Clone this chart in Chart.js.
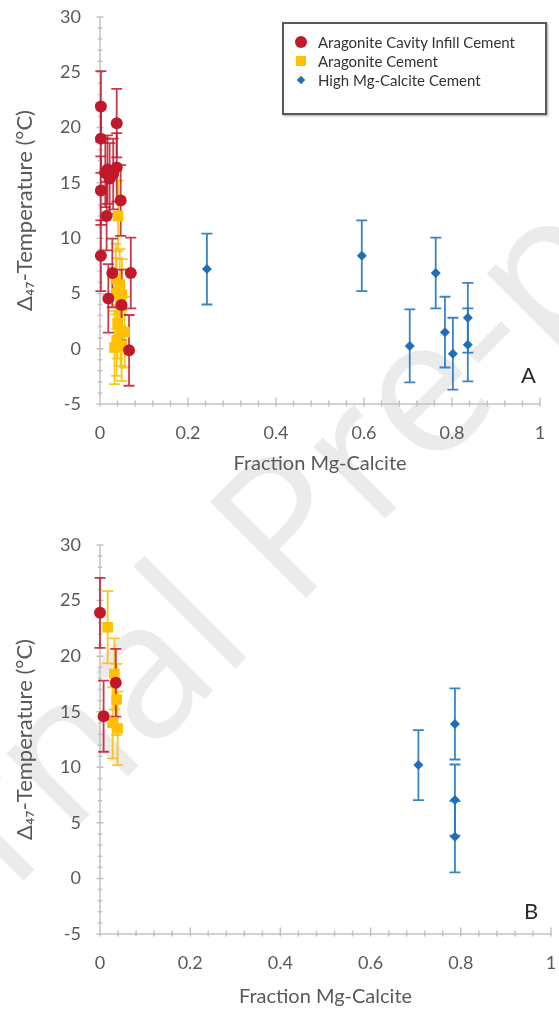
<!DOCTYPE html>
<html>
<head>
<meta charset="utf-8">
<script src="https://cdn.jsdelivr.net/npm/chart.js@4.4.0/dist/chart.umd.min.js"></script>
<style>
  html, body { margin: 0; padding: 0; background: #fff; }
  body { width: 559px; height: 1017px; position: relative; overflow: hidden; font-family: Lato, 'Open Sans', sans-serif; }
  .watermark {
    position: absolute; left: 300px; top: 500px; z-index: 0;
    transform: translate(-50%, -50%) rotate(-45deg);
    font: 190px 'Open Sans', sans-serif; color: #ebebeb; white-space: nowrap;
  }
  .panel { position: absolute; left: 0; z-index: 1; }
  #chartA { top: 0; }
  #chartB { top: 520px; }
  .tag { position: absolute; z-index: 2; font: 22px Lato, sans-serif; color: #2b2b2b; line-height: 1; }
  #legend {
    position: absolute; z-index: 2; left: 282px; top: 22px; width: 265px; height: 93px;
    border: 2px solid #5a5a5a; box-shadow: 1px 1px 2px rgba(0,0,0,0.35); background: #fff;
    padding-top: 8px; box-sizing: border-box;
  }
  .row { height: 19px; display: flex; align-items: center; font: 15px Lato, sans-serif; color: #333; }
  .mark { width: 34px; display: flex; justify-content: center; }
</style>
</head>
<body>
<div class="watermark">Journal Pre-proof</div>
<canvas id="chartA" class="panel" width="559" height="510"></canvas>
<canvas id="chartB" class="panel" width="559" height="497"></canvas>
<div id="legend"></div>
<div class="tag" style="left:521px; top:364px;">A</div>
<div class="tag" style="left:524px; top:900px;">B</div>

<script>
// ---- data ----
const SERIES_NAMES = ['Aragonite Cavity Infill Cement', 'Aragonite Cement', 'High Mg-Calcite Cement'];
const X_TITLE = 'Fraction Mg-Calcite';
const Y_TITLE = 'Δ₄₇-Temperature (°C)';
const X_TICKS = [0, 0.2, 0.4, 0.6, 0.8, 1];
const Y_TICKS = [-5, 0, 5, 10, 15, 20, 25, 30];

// Panel A
const infillA_x = [0.002, 0.038, 0.002, 0.017, 0.030, 0.038, 0.022, 0.012, 0.002, 0.047, 0.015, 0.002, 0.028, 0.070, 0.019, 0.049, 0.066];
const infillA_y = [21.9, 20.4, 19.0, 16.2, 15.8, 16.4, 15.4, 15.9, 14.3, 13.4, 12.0, 8.4, 6.85, 6.85, 4.55, 3.95, -0.15];
const infillA_err = [3.2, 3.1, 3.1, 3.1, 3.2, 3.1, 3.2, 3.1, 3.1, 3.2, 3.1, 3.2, 3.1, 3.2, 3.1, 3.2, 3.2];

const aragA_x = [0.041, 0.036, 0.045, 0.050, 0.038, 0.040, 0.047, 0.056, 0.038, 0.049, 0.033];
const aragA_y = [12.0, 6.3, 5.8, 4.9, 5.0, 2.3, 1.65, 1.5, 0.75, 0.3, 0.1];
const aragA_err = [3.2, 3.2, 3.2, 3.2, 3.2, 3.2, 3.2, 3.2, 3.2, 3.2, 3.3];

const hmcA_x = [0.243, 0.595, 0.763, 0.704, 0.784, 0.802, 0.836, 0.836];
const hmcA_y = [7.2, 8.4, 6.85, 0.25, 1.5, -0.45, 2.8, 0.35];
const hmcA_err = [3.2, 3.2, 3.2, 3.3, 3.2, 3.25, 3.15, 3.3];

// Panel B
const infillB_x = [0.0, 0.008, 0.035];
const infillB_y = [23.9, 14.6, 17.6];
const infillB_err = [3.15, 3.2, 3.05];

const aragB_x = [0.017, 0.032, 0.037, 0.028, 0.039];
const aragB_y = [22.6, 18.4, 16.1, 14.0, 13.5];
const aragB_err = [3.25, 3.2, 3.2, 3.2, 3.3];

const hmcB_x = [0.706, 0.787, 0.787, 0.787];
const hmcB_y = [10.2, 13.9, 7.05, 3.75];
const hmcB_err = [3.15, 3.2, 3.2, 3.2];

// ---- look ----
const FONT = "Lato, 'Open Sans', sans-serif";
const TEXT = '#595959';
const STYLES = [
    { color: '#c0192c', err: 'rgba(192, 25, 44, 0.85)', shape: 'circle', radius: 6 },
    { color: '#ffc000', err: 'rgba(255, 192, 0, 0.9)', shape: 'rect', radius: 7.5 },
    { color: '#1f6fb8', err: 'rgba(38, 118, 190, 0.9)', shape: 'rectRot', radius: 5 }
];

// axis lines with major + minor ticks crossing them
const axisLines = {
    id: 'axisLines',
    beforeDatasetsDraw(chart) {
        const { ctx, chartArea: a, scales: { x, y } } = chart;
        ctx.save();
        ctx.strokeStyle = '#c2c2c2';
        ctx.lineWidth = 1.5;
        ctx.beginPath();
        ctx.moveTo(a.left, a.top);
        ctx.lineTo(a.left, a.bottom);
        ctx.lineTo(a.right, a.bottom);
        for (let v = -5; v <= 30; v++) {
            const py = y.getPixelForValue(v);
            const len = v % 5 === 0 ? 3.5 : 2.2;
            ctx.moveTo(a.left - len, py);
            ctx.lineTo(a.left + len, py);
        }
        for (let k = 0; k <= 25; k++) {
            const px = x.getPixelForValue(k * 0.04);
            const up = k % 5 === 0 ? 6.5 : 3.5;
            ctx.moveTo(px, a.bottom + 2.5);
            ctx.lineTo(px, a.bottom - up);
        }
        ctx.stroke();
        ctx.restore();
    }
};

// vertical error bars with caps, red series last so it sits on top
const errorBars = {
    id: 'errorBars',
    beforeDatasetsDraw(chart) {
        const { ctx, scales: { x, y } } = chart;
        const cap = 5.5;
        for (let i = chart.data.datasets.length - 1; i >= 0; i--) {
            const ds = chart.data.datasets[i];
            ctx.save();
            ctx.strokeStyle = ds.errColor;
            ctx.lineWidth = 1.8;
            ds.data.forEach((p, j) => {
                const px = x.getPixelForValue(p.x);
                const top = y.getPixelForValue(p.y + ds.yErr[j]);
                const bot = y.getPixelForValue(p.y - ds.yErr[j]);
                ctx.beginPath();
                ctx.moveTo(px, top); ctx.lineTo(px, bot);
                ctx.moveTo(px - cap, top); ctx.lineTo(px + cap, top);
                ctx.moveTo(px - cap, bot); ctx.lineTo(px + cap, bot);
                ctx.stroke();
            });
            ctx.restore();
        }
    }
};

function toPoints(xs, ys) {
    return xs.map((v, i) => ({ x: v, y: ys[i] }));
}

// keep the plot box where the figure has it: no extra room for end labels
function noEdgePadding(s) {
    s.paddingLeft = s.paddingRight = s.paddingTop = s.paddingBottom = 0;
}

function buildPanel(canvasId, series, pad, xScaleHeight) {
    const datasets = series.map((s, i) => ({
        label: SERIES_NAMES[i],
        data: toPoints(s[0], s[1]),
        yErr: s[2],
        errColor: STYLES[i].err,
        pointStyle: STYLES[i].shape,
        pointRadius: STYLES[i].radius,
        backgroundColor: STYLES[i].color,
        borderColor: STYLES[i].color,
        borderWidth: 0,
        clip: false
    }));

    return new Chart(document.getElementById(canvasId), {
        type: 'scatter',
        data: { datasets },
        options: {
            responsive: false,
            animation: false,
            events: [],
            layout: { padding: pad },
            plugins: { legend: { display: false }, tooltip: { enabled: false } },
            scales: {
                x: {
                    type: 'linear',
                    min: X_TICKS[0],
                    max: X_TICKS[X_TICKS.length - 1],
                    afterBuildTicks: s => { s.ticks = X_TICKS.map(v => ({ value: v })); },
                    afterFit: s => { s.height = xScaleHeight; noEdgePadding(s); },
                    grid: { display: false, drawTicks: false },
                    border: { display: false },
                    ticks: {
                        padding: 18, color: TEXT, maxRotation: 0, autoSkip: false,
                        font: { family: FONT, size: 18 },
                        callback: v => String(+v.toFixed(1))
                    },
                    title: { display: true, text: X_TITLE, color: TEXT, padding: 0, font: { family: FONT, size: 20 } }
                },
                y: {
                    min: Y_TICKS[0],
                    max: Y_TICKS[Y_TICKS.length - 1],
                    afterBuildTicks: s => { s.ticks = Y_TICKS.map(v => ({ value: v })); },
                    afterFit: s => { s.width = 88; noEdgePadding(s); },
                    grid: { display: false, drawTicks: false },
                    border: { display: false },
                    ticks: { padding: 19, color: TEXT, font: { family: FONT, size: 18 } },
                    title: { display: true, text: Y_TITLE, color: TEXT, padding: 0, font: { family: FONT, size: 22 } }
                }
            }
        },
        plugins: [axisLines, errorBars]
    });
}

function buildLegend() {
    const marks = [
        '<span style="width:12px;height:12px;border-radius:50%;background:' + STYLES[0].color + '"></span>',
        '<span style="width:10px;height:10px;background:' + STYLES[1].color + '"></span>',
        '<span style="width:6px;height:6px;transform:rotate(45deg);background:' + STYLES[2].color + '"></span>'
    ];
    document.getElementById('legend').innerHTML = SERIES_NAMES.map((name, i) =>
        '<div class="row"><div class="mark">' + marks[i] + '</div><div>' + name + '</div></div>'
    ).join('');
}

buildLegend();
buildPanel('chartA', [[infillA_x, infillA_y, infillA_err], [aragA_x, aragA_y, aragA_err], [hmcA_x, hmcA_y, hmcA_err]],
    { left: 12, top: 17, right: 19, bottom: 34 }, 72);
buildPanel('chartB', [[infillB_x, infillB_y, infillB_err], [aragB_x, aragB_y, aragB_err], [hmcB_x, hmcB_y, hmcB_err]],
    { left: 12, top: 25, right: 8, bottom: 8 }, 75);
</script>
</body>
</html>
